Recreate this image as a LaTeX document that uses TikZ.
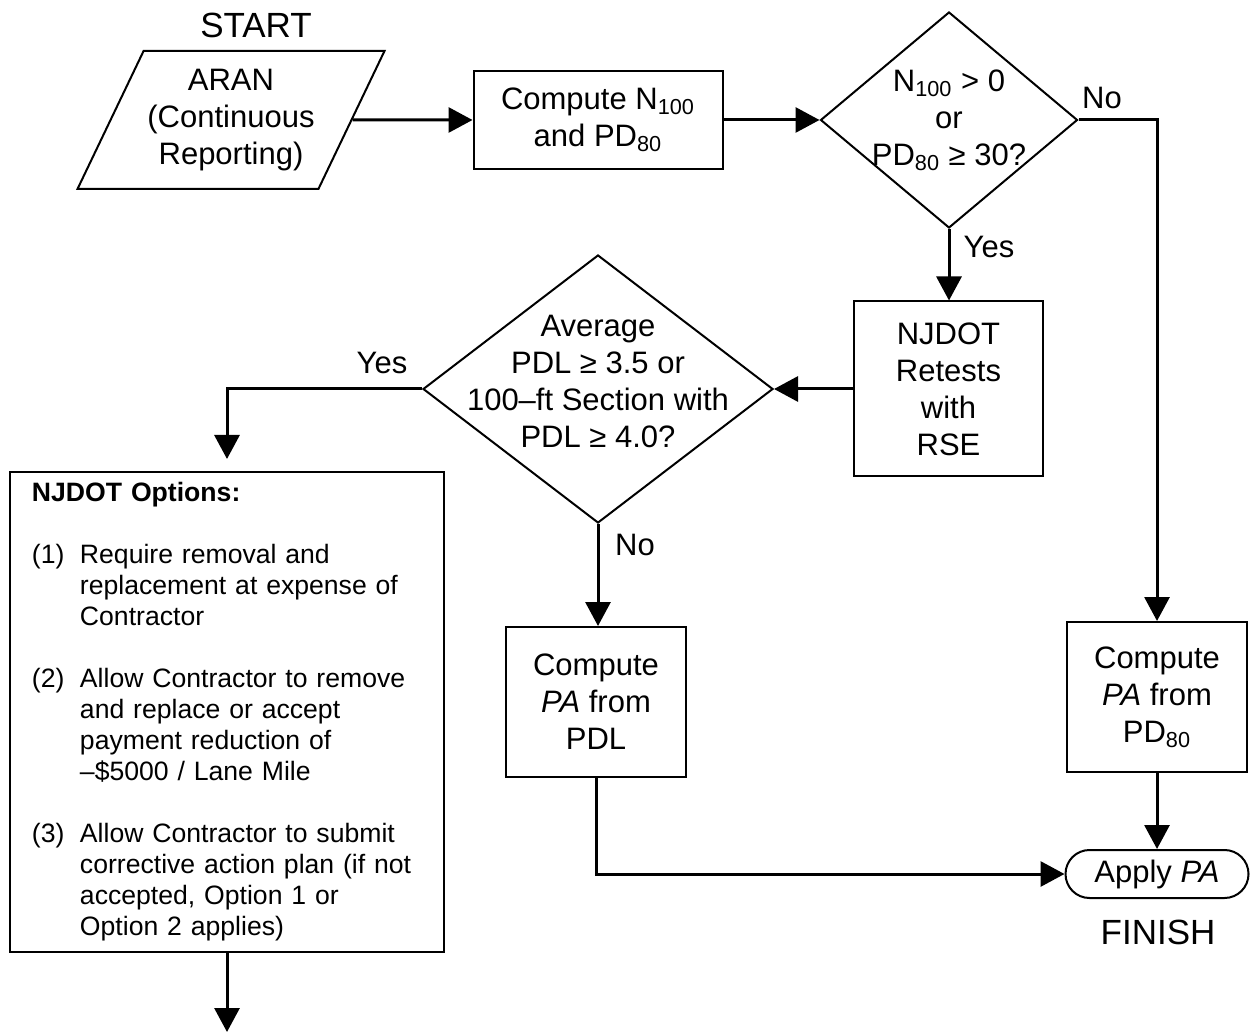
\documentclass[tikz,border=0pt]{standalone}
\usepackage{fontspec}
\setmainfont{Liberation Sans}
\usepackage{xcolor}
\definecolor{chart-ink}{HTML}{000000}
\definecolor{chart-paper}{HTML}{FFFFFF}
\usepackage{tikz}
\usetikzlibrary{shapes.geometric,arrows.meta}

\tikzset{
  boxtext/.style={font=\fontsize{15.5}{18.5}\selectfont, align=center},
  procbox/.style={boxtext, draw=chart-ink, line width=1pt, rectangle, inner sep=0pt},
  decision/.style={draw=chart-ink, line width=1pt, diamond, inner sep=0pt},
  flow/.style={draw=chart-ink, line width=1.5pt, -{Triangle[length=12pt,width=12.5pt]}},
  answer/.style={font=\fontsize{15.5}{18.5}\selectfont},
  endlabel/.style={font=\fontsize{17.5}{20}\selectfont},
}

\begin{document}
\begin{tikzpicture}[x=0.5pt, y=-0.5pt]

% Fondo
\fill[chart-paper] (0,0) rectangle (1251,1036);
\useasboundingbox (0,0) rectangle (1251,1036);

% Inicio
\node[endlabel] (start) at (256,25) {START};
\node[boxtext, draw=chart-ink, line width=1pt, trapezium, trapezium left angle=57,
      trapezium right angle=123, trapezium stretches body=true,
      minimum width=153.5pt, minimum height=69pt, inner sep=0pt]
      (aran) at (231,120) {ARAN\\(Continuous\\Reporting)};

% Calculo
\node[procbox, minimum width=124.5pt, minimum height=49pt] (computen) at (598,120)
      {Compute N\textsubscript{100}\\and PD\textsubscript{80}};

% Primera decision
\node[decision, minimum width=128.5pt, minimum height=108pt] (test1) at (949,120) {};
\node[boxtext] (test1txt) at (test1) {N\textsubscript{100} > 0\\or\\PD\textsubscript{80} ≥ 30?};

% Reensayo
\node[procbox, minimum width=94.5pt, minimum height=87.5pt] (retest) at (948.5,389)
      {NJDOT\\Retests\\with\\RSE};

% Segunda decision
\node[decision, minimum width=175pt, minimum height=134pt] (test2) at (598,389) {};
\node[boxtext] (test2txt) at (598,381)
      {Average\\PDL ≥ 3.5 or\\100--ft Section with\\PDL ≥ 4.0?};

% Opciones
\node[draw=chart-ink, line width=1pt, rectangle, minimum width=217pt, minimum height=240pt,
      text width=195pt, inner xsep=11pt, inner ysep=0pt,
      font=\fontsize{13.3}{15.5}\selectfont] (options) at (227,712)
{\noindent\begin{tabular}{@{}p{24pt}@{}l@{}}
\multicolumn{2}{@{}l@{}}{\textbf{NJDOT Options:}}\\
 & \\
(1) & Require removal and\\
 & replacement at expense of\\
 & Contractor\\
 & \\
(2) & Allow Contractor to remove\\
 & and replace or accept\\
 & payment reduction of\\
 & --\$5000 / Lane Mile\\
 & \\
(3) & Allow Contractor to submit\\
 & corrective action plan (if not\\
 & accepted, Option 1 or\\
 & Option 2 applies)
\end{tabular}};

% Calculo de PA
\node[procbox, minimum width=90pt, minimum height=75pt] (pdlbox) at (596,702)
      {Compute\\\textit{PA} from\\PDL};
\node[procbox, minimum width=90pt, minimum height=75pt] (pdeighty) at (1157,697)
      {Compute\\\textit{PA} from\\PD\textsubscript{80}};

% Fin
\node[procbox, rounded corners=12pt, minimum width=91.5pt, minimum height=24pt]
      (apply) at (1157,874) {Apply \textit{PA}};
\node[endlabel] (finish) at (1158,932) {FINISH};

% Respuestas
\node[answer] (no1) at (1102,98) {No};
\node[answer] (yes1) at (989,247) {Yes};
\node[answer] (yes2) at (382,363) {Yes};
\node[answer] (no2) at (635,545) {No};

% Flechas
\coordinate (optsend) at (227,1032);
\draw[flow] (aran) -- (computen);
\draw[flow] (computen) -- (test1);
\draw[flow] (test1.east) -| (pdeighty.north);
\draw[flow] (test1.south) -- (test1.south |- retest.north);
\draw[flow] (retest.west) -- (test2.east);
\draw[flow, shorten >=6pt] (test2.west) -| (options.north);
\draw[flow] (test2.south) -- (test2.south |- pdlbox.north);
\draw[flow] (pdlbox.south) |- (apply.west);
\draw[flow] (pdeighty.south) -- (apply.north);
\draw[flow] (options.south) -- (optsend);

\end{tikzpicture}
\end{document}
